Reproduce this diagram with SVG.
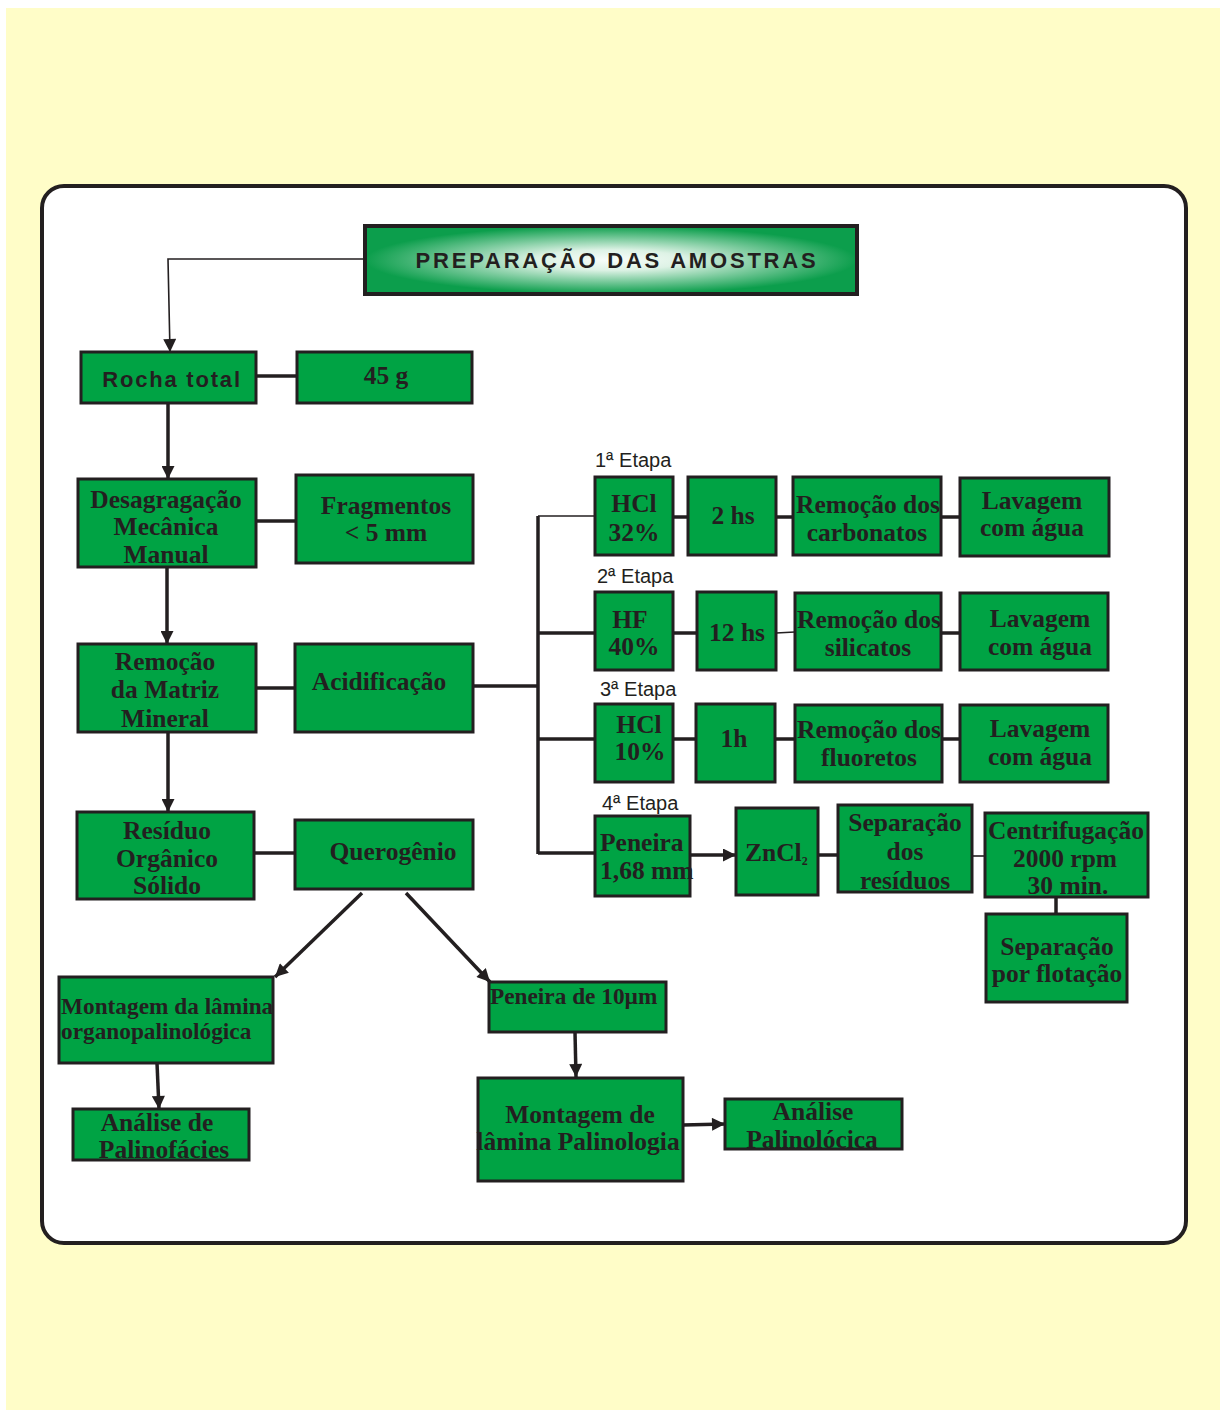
<svg xmlns="http://www.w3.org/2000/svg" width="1223" height="1412" viewBox="0 0 1223 1412">
<defs>
<radialGradient id="tg" cx="50%" cy="50%" r="50%">
<stop offset="0" stop-color="#F8FDFA"/>
<stop offset="0.3" stop-color="#DDF2E5"/>
<stop offset="1" stop-color="#0C9E4C"/>
</radialGradient>
<marker id="ah" viewBox="0 0 10 10" refX="10" refY="5" markerWidth="14" markerHeight="13" markerUnits="userSpaceOnUse" orient="auto">
<path d="M0,0 L10,5 L0,10 z" fill="#231F20"/>
</marker>
</defs>
<style>
.box{fill:#00A344;stroke:#231F20;stroke-width:3}
.t{font-family:"Liberation Serif","Times New Roman",serif;font-weight:bold;font-size:25.5px;fill:#231F20;text-anchor:middle}
.tl{text-anchor:start}
.sm{font-size:23.3px}
.s{font-family:"Liberation Sans",Arial,sans-serif;font-size:20px;fill:#231F20}
.c{stroke:#231F20;stroke-width:3.5;fill:none}
.thin{stroke-width:1.6}
.a{marker-end:url(#ah)}
</style>
<rect x="6" y="8" width="1214" height="1402" fill="#FFFDC8"/>
<rect x="42" y="186" width="1144" height="1057" rx="22" fill="#FFFFFF" stroke="#231F20" stroke-width="4"/>

<g id="connectors">
<polyline class="c thin a" points="365,259 168,259 170,352"/>
<line class="c" x1="256" y1="376" x2="297" y2="376"/>
<line class="c a" x1="168" y1="403" x2="168" y2="479"/>
<line class="c" x1="256" y1="521" x2="296" y2="521"/>
<line class="c a" x1="167" y1="567" x2="167" y2="644"/>
<line class="c" x1="256" y1="688" x2="295" y2="688"/>
<line class="c a" x1="168" y1="732" x2="168" y2="812"/>
<line class="c" x1="254" y1="853" x2="295" y2="853"/>
<line class="c" x1="473" y1="686" x2="538" y2="686"/>
<line class="c" x1="538" y1="516" x2="538" y2="854" stroke-width="3"/>
<line class="c thin" x1="538" y1="516" x2="595" y2="516"/>
<line class="c" x1="538" y1="633" x2="595" y2="633"/>
<line class="c" x1="538" y1="739" x2="595" y2="739"/>
<line class="c" x1="538" y1="853" x2="595" y2="853" stroke-width="2.6"/>
<line class="c" x1="673" y1="517" x2="688" y2="517"/>
<line class="c" x1="776" y1="517" x2="793" y2="517"/>
<line class="c" x1="941" y1="517" x2="960" y2="517"/>
<line class="c" x1="673" y1="633" x2="697" y2="633"/>
<line class="c thin" x1="776" y1="633" x2="795" y2="632"/>
<line class="c" x1="941" y1="633" x2="960" y2="633"/>
<line class="c" x1="673" y1="739" x2="696" y2="739"/>
<line class="c" x1="775" y1="739" x2="795" y2="739"/>
<line class="c" x1="942" y1="739" x2="960" y2="739"/>
<line class="c a" x1="690" y1="855" x2="736" y2="855"/>
<line class="c" x1="818" y1="855" x2="838" y2="855"/>
<line class="c thin" x1="972" y1="856" x2="985" y2="856"/>
<line class="c" x1="1056" y1="897" x2="1056" y2="914"/>
<line class="c a" x1="362" y1="893" x2="275" y2="977"/>
<line class="c a" x1="406" y1="893" x2="490" y2="982"/>
<line class="c a" x1="157" y1="1063" x2="159" y2="1109"/>
<line class="c a" x1="575" y1="1032" x2="576" y2="1077"/>
<line class="c a" x1="683" y1="1125" x2="725" y2="1124"/>
</g>

<g id="title">
<rect x="365" y="226" width="492" height="68" fill="url(#tg)" stroke="#231F20" stroke-width="4"/>
<text x="617" y="268" font-family="'Liberation Sans',Arial,sans-serif" font-weight="bold" font-size="22" letter-spacing="2.8" fill="#231F20" text-anchor="middle">PREPARAÇÃO DAS AMOSTRAS</text>
</g>

<g id="rocha"><rect class="box" x="81" y="352" width="175" height="51"/>
<text x="172" y="387" font-family="'Liberation Sans',Arial,sans-serif" font-weight="bold" font-size="22" letter-spacing="1.8" fill="#231F20" text-anchor="middle">Rocha total</text></g>
<g id="g45"><rect class="box" x="297" y="352" width="175" height="51"/>
<text class="t" x="386" y="384">45 g</text></g>

<g id="desag"><rect class="box" x="78" y="479" width="178" height="88"/>
<text class="t"><tspan x="166" y="508">Desagragação</tspan><tspan x="166" y="535">Mecânica</tspan><tspan x="166" y="563">Manual</tspan></text></g>
<g id="frag"><rect class="box" x="296" y="475" width="177" height="88"/>
<text class="t"><tspan x="386" y="514">Fragmentos</tspan><tspan x="386" y="541">&lt; 5 mm</tspan></text></g>

<g id="remocao"><rect class="box" x="78" y="644" width="178" height="88"/>
<text class="t"><tspan x="165" y="670">Remoção</tspan><tspan x="165" y="698">da Matriz</tspan><tspan x="165" y="727">Mineral</tspan></text></g>
<g id="acid"><rect class="box" x="295" y="644" width="178" height="88"/>
<text class="t" x="379" y="690">Acidificação</text></g>

<g id="residuo"><rect class="box" x="77" y="812" width="177" height="87"/>
<text class="t"><tspan x="167" y="839">Resíduo</tspan><tspan x="167" y="867">Orgânico</tspan><tspan x="167" y="894">Sólido</tspan></text></g>
<g id="querogenio"><rect class="box" x="295" y="820" width="178" height="69"/>
<text class="t" x="393" y="860">Querogênio</text></g>

<g id="montagem1"><rect class="box" x="59" y="977" width="214" height="86"/>
<text class="t tl sm"><tspan x="61" y="1014">Montagem da lâmina</tspan><tspan x="61" y="1039">organopalinológica</tspan></text></g>
<g id="analise1"><rect class="box" x="73" y="1109" width="176" height="51"/>
<text class="t"><tspan x="157" y="1131">Análise de</tspan><tspan x="164" y="1158">Palinofácies</tspan></text></g>

<g id="peneira10"><rect class="box" x="489" y="982" width="177" height="50"/>
<text class="t tl sm" x="490" y="1004">Peneira de 10µm</text></g>
<g id="montagem2"><rect class="box" x="478" y="1078" width="205" height="103"/>
<text class="t"><tspan x="580" y="1123">Montagem de</tspan><tspan x="578" y="1150">lâmina Palinologia</tspan></text></g>
<g id="analise2"><rect class="box" x="725" y="1099" width="177" height="50"/>
<text class="t"><tspan x="813" y="1120">Análise</tspan><tspan x="812" y="1148">Palinolócica</tspan></text></g>

<text class="s" x="595" y="467">1ª Etapa</text>
<text class="s" x="597" y="583">2ª Etapa</text>
<text class="s" x="600" y="696">3ª Etapa</text>
<text class="s" x="602" y="810">4ª Etapa</text>

<g id="hcl32"><rect class="box" x="595" y="477" width="78" height="78"/>
<text class="t"><tspan x="634" y="512">HCl</tspan><tspan x="634" y="541">32%</tspan></text></g>
<g id="h2"><rect class="box" x="688" y="477" width="88" height="78"/>
<text class="t" x="733" y="524">2 hs</text></g>
<g id="remcarb"><rect class="box" x="793" y="477" width="148" height="78"/>
<text class="t"><tspan x="868" y="513">Remoção dos</tspan><tspan x="867" y="541">carbonatos</tspan></text></g>
<g id="lav1"><rect class="box" x="960" y="478" width="149" height="78"/>
<text class="t"><tspan x="1032" y="509">Lavagem</tspan><tspan x="1032" y="536">com água</tspan></text></g>

<g id="hf40"><rect class="box" x="595" y="592" width="78" height="78"/>
<text class="t"><tspan x="630" y="628">HF</tspan><tspan x="634" y="655">40%</tspan></text></g>
<g id="h12"><rect class="box" x="697" y="592" width="79" height="78"/>
<text class="t" x="737" y="641">12 hs</text></g>
<g id="remsil"><rect class="box" x="795" y="593" width="146" height="77"/>
<text class="t"><tspan x="869" y="628">Remoção dos</tspan><tspan x="868" y="656">silicatos</tspan></text></g>
<g id="lav2"><rect class="box" x="960" y="593" width="148" height="77"/>
<text class="t"><tspan x="1040" y="627">Lavagem</tspan><tspan x="1040" y="655">com água</tspan></text></g>

<g id="hcl10"><rect class="box" x="595" y="704" width="78" height="78"/>
<text class="t"><tspan x="639" y="733">HCl</tspan><tspan x="640" y="760">10%</tspan></text></g>
<g id="h1"><rect class="box" x="696" y="704" width="79" height="78"/>
<text class="t" x="734" y="747">1h</text></g>
<g id="remflu"><rect class="box" x="795" y="705" width="147" height="77"/>
<text class="t"><tspan x="869" y="738">Remoção dos</tspan><tspan x="869" y="766">fluoretos</tspan></text></g>
<g id="lav3"><rect class="box" x="960" y="705" width="148" height="77"/>
<text class="t"><tspan x="1040" y="737">Lavagem</tspan><tspan x="1040" y="765">com água</tspan></text></g>

<g id="peneira168"><rect class="box" x="595" y="816" width="95" height="80"/>
<text class="t tl"><tspan x="600" y="851">Peneira</tspan><tspan x="600" y="879">1,68 mm</tspan></text></g>
<g id="zncl2"><rect class="box" x="736" y="808" width="82" height="87"/>
<text class="t tl" x="745" y="861">ZnCl<tspan style="font-size:12px" dy="4">2</tspan></text></g>
<g id="sepres"><rect class="box" x="838" y="805" width="134" height="87"/>
<text class="t"><tspan x="905" y="831">Separação</tspan><tspan x="905" y="860">dos</tspan><tspan x="905" y="889">resíduos</tspan></text></g>
<g id="centrif"><rect class="box" x="985" y="813" width="163" height="84"/>
<text class="t"><tspan x="1066" y="839">Centrifugação</tspan><tspan x="1065" y="867">2000 rpm</tspan><tspan x="1068" y="894">30 min.</tspan></text></g>
<g id="sepflot"><rect class="box" x="986" y="914" width="141" height="88"/>
<text class="t"><tspan x="1057" y="955">Separação</tspan><tspan x="1057" y="982">por flotação</tspan></text></g>
</svg>
